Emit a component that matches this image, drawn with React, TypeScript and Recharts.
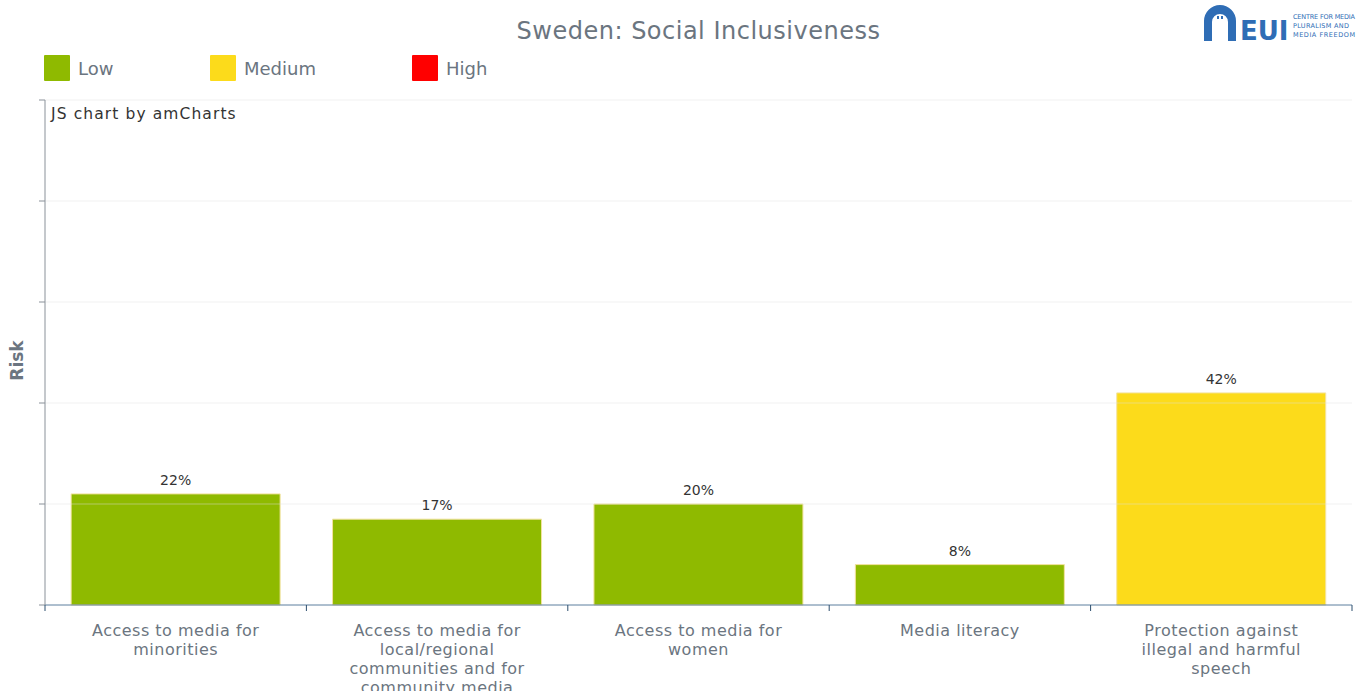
import { BarChart, Bar, XAxis, YAxis, Cell, LabelList, ReferenceLine, Label } from 'recharts'

// categories (use \n for the wrapped tick lines)
const categories = [
  'Access to media for\nminorities',
  'Access to media for\nlocal/regional\ncommunities and for\ncommunity media',
  'Access to media for\nwomen',
  'Media literacy',
  'Protection against\nillegal and harmful\nspeech',
]
const riskValues = [22, 17, 20, 8, 42]
const riskLevels = ['Low', 'Low', 'Low', 'Low', 'Medium']
const yTicks = [0, 20, 40, 60, 80, 100]

const levelColors: Record<string, string> = {
  Low: '#8fba00',
  Medium: '#fcdb1b',
  High: '#ff0000',
}
const legendItems = ['Low', 'Medium', 'High']

const data = categories.map((name, i) => ({ name, value: riskValues[i], level: riskLevels[i] }))

const FONT = '"DejaVu Sans", Verdana, sans-serif'
const GREY = '#6b7580'
const TICK_SIZE = 6
const TICK_MARGIN = 2

// category label + tick marks on the band edges (amCharts style)
function CategoryTick(props: any) {
  const { x, y, payload, index, visibleTicksCount } = props
  const lines = String(payload.value).split('\n')
  const half = payload.offset || 0
  const top = -(TICK_SIZE + TICK_MARGIN)
  return (
    <g transform={`translate(${x},${y})`}>
      <line x1={-half} x2={-half} y1={top} y2={top + TICK_SIZE} stroke="#2d4f6e" />
      {index === visibleTicksCount - 1 && (
        <line x1={half} x2={half} y1={top} y2={top + TICK_SIZE} stroke="#2d4f6e" />
      )}
      <text textAnchor="middle" fill={GREY} fontSize={16} letterSpacing={0.5} fontFamily={FONT}>
        {lines.map((l, i) => (
          <tspan key={i} x={0} y={i === 0 ? 23 : undefined} dy={i === 0 ? 0 : 19}>
            {l}
          </tspan>
        ))}
      </text>
    </g>
  )
}

const noTick = () => <g />

function Logo() {
  return (
    <div style={{ position: 'absolute', left: 1202, top: 3, width: 155, height: 40, overflow: 'hidden' }}>
      <svg width={155} height={40}>
        <path d="M2 38 L2 18 A16 16 0 0 1 34 18 L34 38 L26 38 L26 19 A8 8 0 0 0 10 19 L10 38 Z" fill="#2f6db5" />
        <rect x={15} y={13} width={2} height={3} fill="#2f6db5" />
        <rect x={19} y={13} width={2} height={3} fill="#2f6db5" />
        <text x={38} y={37} fontFamily={FONT} fontWeight="bold" fontSize={26} fill="#2f6db5">EUI</text>
        <text x={91} y={16} fontFamily={FONT} fontSize={6.5} fill="#2f6db5" textLength={62}>CENTRE FOR MEDIA</text>
        <text x={91} y={25} fontFamily={FONT} fontSize={6.5} fill="#2f6db5" textLength={56}>PLURALISM AND</text>
        <text x={91} y={34} fontFamily={FONT} fontSize={6.5} fill="#2f6db5" textLength={62}>MEDIA FREEDOM</text>
      </svg>
    </div>
  )
}

function RiskLabel(props: any) {
  const { viewBox } = props
  const cx = viewBox.x + 17
  const cy = viewBox.y + viewBox.height / 2 + 8
  return (
    <text
      x={cx}
      y={cy}
      transform={`rotate(-90, ${cx}, ${cy})`}
      textAnchor="middle"
      dominantBaseline="central"
      fill={GREY}
      fontSize={17}
      fontWeight="bold"
      fontFamily={FONT}
    >
      Risk
    </text>
  )
}

export default function App() {
  return (
    <div style={{ position: 'absolute', left: 0, top: 0, width: 1357, height: 691, background: '#fff', fontFamily: FONT }}>
      <div style={{ position: 'absolute', left: 0, width: 1397, top: 17, textAlign: 'center', fontSize: 24, letterSpacing: 0.5, color: GREY }}>
        Sweden: Social Inclusiveness
      </div>
      <Logo />
      {/* legend */}
      {legendItems.map((item, i) => (
        <div
          key={item}
          style={{ position: 'absolute', left: [44, 210, 412][i], top: 55, display: 'flex', alignItems: 'center' }}
        >
          <div style={{ width: 26, height: 26, background: levelColors[item], borderRadius: 1 }} />
          <span style={{ marginLeft: 8, fontSize: 18, color: GREY }}>{item}</span>
        </div>
      ))}
      <div style={{ position: 'absolute', left: 51, top: 105, fontSize: 15.5, letterSpacing: 1.1, color: '#333' }}>
        JS chart by amCharts
      </div>

      <BarChart
        width={1357}
        height={691}
        data={data}
        margin={{ top: 100, right: 5, left: 0, bottom: 0 }}
        barCategoryGap="10%"
      >
        <XAxis
          dataKey="name"
          height={86}
          stroke="#5d7f9e"
          tickLine={false}
          tickSize={TICK_SIZE}
          tickMargin={TICK_MARGIN}
          interval={0}
          tick={<CategoryTick />}
        />
        <YAxis
          width={45}
          domain={[0, 100]}
          ticks={yTicks}
          tick={noTick}
          tickSize={6}
          stroke="#8a9199"
        >
          <Label content={<RiskLabel />} />
        </YAxis>
        <Bar dataKey="value" isAnimationActive={false} stroke="#f3e3a0" strokeWidth={1}>
          {data.map((d, i) => (
            <Cell key={i} fill={levelColors[d.level]} />
          ))}
          <LabelList
            dataKey="value"
            position="top"
            offset={9}
            formatter={(v: any) => `${v}%`}
            fill="#333"
            fontSize={14}
            fontFamily={FONT}
          />
        </Bar>
        {yTicks.slice(1).map((t) => (
          <ReferenceLine key={t} y={t} stroke="#dddddd" strokeOpacity={0.45} />
        ))}
      </BarChart>
    </div>
  )
}
